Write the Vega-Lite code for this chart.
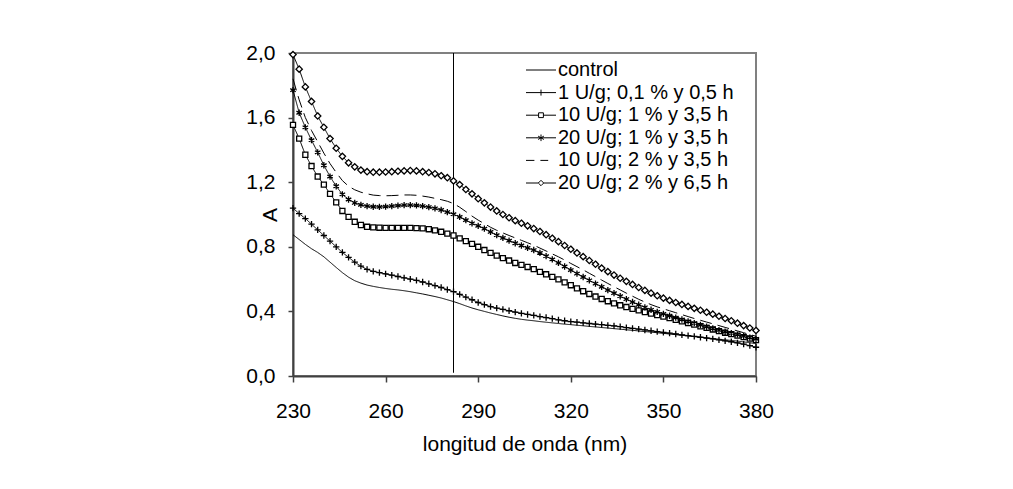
{
"$schema": "https://vega.github.io/schema/vega-lite/v6.json",
"width": 463, "height": 323,
"autosize": "none",
"padding": {"left": 293, "top": 53, "right": 257, "bottom": 113},
"background": "white",
"config": {
  "font": "Liberation Sans",
  "view": {"stroke": "#808080", "strokeWidth": 2},
  "axis": {"grid": false, "labelFont": "Liberation Sans", "titleFont": "Liberation Sans", "labelFontSize": 21, "titleFontSize": 21, "titleFontWeight": "normal", "labelColor": "black", "titleColor": "black", "domainColor": "#404040", "domainWidth": 2, "tickColor": "#404040", "tickWidth": 1.5, "labelFlush": false, "labelOverlap": false}
},
"datasets": {
"refline": [{"nm": 282, "A": 0.02, "A2": 2.0}],
"spectra": [
{"nm":230,"s":"c","A":0.875},{"nm":232,"s":"c","A":0.845},{"nm":234,"s":"c","A":0.815},{"nm":236,"s":"c","A":0.788},{"nm":238,"s":"c","A":0.765},{"nm":240,"s":"c","A":0.738},{"nm":242,"s":"c","A":0.705},{"nm":244,"s":"c","A":0.672},{"nm":246,"s":"c","A":0.640},{"nm":248,"s":"c","A":0.612},
{"nm":250,"s":"c","A":0.590},{"nm":252,"s":"c","A":0.575},{"nm":254,"s":"c","A":0.563},{"nm":256,"s":"c","A":0.555},{"nm":258,"s":"c","A":0.548},{"nm":260,"s":"c","A":0.542},{"nm":262,"s":"c","A":0.537},{"nm":264,"s":"c","A":0.533},{"nm":266,"s":"c","A":0.528},{"nm":268,"s":"c","A":0.522},
{"nm":270,"s":"c","A":0.515},{"nm":272,"s":"c","A":0.508},{"nm":274,"s":"c","A":0.500},{"nm":276,"s":"c","A":0.492},{"nm":278,"s":"c","A":0.483},{"nm":280,"s":"c","A":0.472},{"nm":282,"s":"c","A":0.461},{"nm":284,"s":"c","A":0.448},{"nm":286,"s":"c","A":0.434},{"nm":288,"s":"c","A":0.421},
{"nm":290,"s":"c","A":0.410},{"nm":292,"s":"c","A":0.400},{"nm":294,"s":"c","A":0.390},{"nm":296,"s":"c","A":0.381},{"nm":298,"s":"c","A":0.372},{"nm":300,"s":"c","A":0.364},{"nm":302,"s":"c","A":0.357},{"nm":304,"s":"c","A":0.351},{"nm":306,"s":"c","A":0.346},{"nm":308,"s":"c","A":0.342},
{"nm":310,"s":"c","A":0.337},{"nm":312,"s":"c","A":0.333},{"nm":314,"s":"c","A":0.329},{"nm":316,"s":"c","A":0.325},{"nm":318,"s":"c","A":0.321},{"nm":320,"s":"c","A":0.318},{"nm":322,"s":"c","A":0.314},{"nm":324,"s":"c","A":0.311},{"nm":326,"s":"c","A":0.307},{"nm":328,"s":"c","A":0.304},
{"nm":330,"s":"c","A":0.300},{"nm":332,"s":"c","A":0.297},{"nm":334,"s":"c","A":0.293},{"nm":336,"s":"c","A":0.290},{"nm":338,"s":"c","A":0.286},{"nm":340,"s":"c","A":0.283},{"nm":342,"s":"c","A":0.279},{"nm":344,"s":"c","A":0.275},{"nm":346,"s":"c","A":0.272},{"nm":348,"s":"c","A":0.268},
{"nm":350,"s":"c","A":0.264},{"nm":352,"s":"c","A":0.260},{"nm":354,"s":"c","A":0.256},{"nm":356,"s":"c","A":0.252},{"nm":358,"s":"c","A":0.248},{"nm":360,"s":"c","A":0.244},{"nm":362,"s":"c","A":0.240},{"nm":364,"s":"c","A":0.236},{"nm":366,"s":"c","A":0.232},{"nm":368,"s":"c","A":0.228},
{"nm":370,"s":"c","A":0.224},{"nm":372,"s":"c","A":0.220},{"nm":374,"s":"c","A":0.216},{"nm":376,"s":"c","A":0.211},{"nm":378,"s":"c","A":0.206},{"nm":380,"s":"c","A":0.201},

{"nm":230,"s":"p","A":1.040},{"nm":232,"s":"p","A":1.005},{"nm":234,"s":"p","A":0.975},{"nm":236,"s":"p","A":0.940},{"nm":238,"s":"p","A":0.905},{"nm":240,"s":"p","A":0.870},{"nm":242,"s":"p","A":0.835},{"nm":244,"s":"p","A":0.800},{"nm":246,"s":"p","A":0.765},{"nm":248,"s":"p","A":0.735},
{"nm":250,"s":"p","A":0.705},{"nm":252,"s":"p","A":0.680},{"nm":254,"s":"p","A":0.660},{"nm":256,"s":"p","A":0.648},{"nm":258,"s":"p","A":0.640},{"nm":260,"s":"p","A":0.632},{"nm":262,"s":"p","A":0.624},{"nm":264,"s":"p","A":0.616},{"nm":266,"s":"p","A":0.608},{"nm":268,"s":"p","A":0.600},
{"nm":270,"s":"p","A":0.592},{"nm":272,"s":"p","A":0.582},{"nm":274,"s":"p","A":0.571},{"nm":276,"s":"p","A":0.560},{"nm":278,"s":"p","A":0.548},{"nm":280,"s":"p","A":0.535},{"nm":282,"s":"p","A":0.522},{"nm":284,"s":"p","A":0.505},{"nm":286,"s":"p","A":0.488},{"nm":288,"s":"p","A":0.472},
{"nm":290,"s":"p","A":0.455},{"nm":292,"s":"p","A":0.442},{"nm":294,"s":"p","A":0.430},{"nm":296,"s":"p","A":0.420},{"nm":298,"s":"p","A":0.412},{"nm":300,"s":"p","A":0.404},{"nm":302,"s":"p","A":0.396},{"nm":304,"s":"p","A":0.388},{"nm":306,"s":"p","A":0.381},{"nm":308,"s":"p","A":0.375},
{"nm":310,"s":"p","A":0.368},{"nm":312,"s":"p","A":0.362},{"nm":314,"s":"p","A":0.355},{"nm":316,"s":"p","A":0.348},{"nm":318,"s":"p","A":0.342},{"nm":320,"s":"p","A":0.337},{"nm":322,"s":"p","A":0.333},{"nm":324,"s":"p","A":0.329},{"nm":326,"s":"p","A":0.325},{"nm":328,"s":"p","A":0.321},
{"nm":330,"s":"p","A":0.318},{"nm":332,"s":"p","A":0.314},{"nm":334,"s":"p","A":0.310},{"nm":336,"s":"p","A":0.306},{"nm":338,"s":"p","A":0.300},{"nm":340,"s":"p","A":0.295},{"nm":342,"s":"p","A":0.290},{"nm":344,"s":"p","A":0.285},{"nm":346,"s":"p","A":0.280},{"nm":348,"s":"p","A":0.275},
{"nm":350,"s":"p","A":0.270},{"nm":352,"s":"p","A":0.265},{"nm":354,"s":"p","A":0.260},{"nm":356,"s":"p","A":0.255},{"nm":358,"s":"p","A":0.250},{"nm":360,"s":"p","A":0.245},{"nm":362,"s":"p","A":0.240},{"nm":364,"s":"p","A":0.235},{"nm":366,"s":"p","A":0.230},{"nm":368,"s":"p","A":0.224},
{"nm":370,"s":"p","A":0.218},{"nm":372,"s":"p","A":0.212},{"nm":374,"s":"p","A":0.205},{"nm":376,"s":"p","A":0.197},{"nm":378,"s":"p","A":0.188},{"nm":380,"s":"p","A":0.178},

{"nm":230,"s":"q","A":1.555},{"nm":232,"s":"q","A":1.470},{"nm":234,"s":"q","A":1.370},{"nm":236,"s":"q","A":1.300},{"nm":238,"s":"q","A":1.235},{"nm":240,"s":"q","A":1.185},{"nm":242,"s":"q","A":1.128},{"nm":244,"s":"q","A":1.075},{"nm":246,"s":"q","A":1.022},{"nm":248,"s":"q","A":0.985},
{"nm":250,"s":"q","A":0.955},{"nm":252,"s":"q","A":0.935},{"nm":254,"s":"q","A":0.924},{"nm":256,"s":"q","A":0.920},{"nm":258,"s":"q","A":0.918},{"nm":260,"s":"q","A":0.917},{"nm":262,"s":"q","A":0.917},{"nm":264,"s":"q","A":0.917},{"nm":266,"s":"q","A":0.917},{"nm":268,"s":"q","A":0.917},
{"nm":270,"s":"q","A":0.916},{"nm":272,"s":"q","A":0.914},{"nm":274,"s":"q","A":0.909},{"nm":276,"s":"q","A":0.902},{"nm":278,"s":"q","A":0.893},{"nm":280,"s":"q","A":0.882},{"nm":282,"s":"q","A":0.870},{"nm":284,"s":"q","A":0.852},{"nm":286,"s":"q","A":0.835},{"nm":288,"s":"q","A":0.818},
{"nm":290,"s":"q","A":0.800},{"nm":292,"s":"q","A":0.780},{"nm":294,"s":"q","A":0.762},{"nm":296,"s":"q","A":0.745},{"nm":298,"s":"q","A":0.730},{"nm":300,"s":"q","A":0.715},{"nm":302,"s":"q","A":0.700},{"nm":304,"s":"q","A":0.688},{"nm":306,"s":"q","A":0.675},{"nm":308,"s":"q","A":0.662},
{"nm":310,"s":"q","A":0.645},{"nm":312,"s":"q","A":0.630},{"nm":314,"s":"q","A":0.614},{"nm":316,"s":"q","A":0.598},{"nm":318,"s":"q","A":0.580},{"nm":320,"s":"q","A":0.562},{"nm":322,"s":"q","A":0.543},{"nm":324,"s":"q","A":0.525},{"nm":326,"s":"q","A":0.508},{"nm":328,"s":"q","A":0.492},
{"nm":330,"s":"q","A":0.477},{"nm":332,"s":"q","A":0.463},{"nm":334,"s":"q","A":0.450},{"nm":336,"s":"q","A":0.438},{"nm":338,"s":"q","A":0.427},{"nm":340,"s":"q","A":0.416},{"nm":342,"s":"q","A":0.406},{"nm":344,"s":"q","A":0.396},{"nm":346,"s":"q","A":0.386},{"nm":348,"s":"q","A":0.377},
{"nm":350,"s":"q","A":0.368},{"nm":352,"s":"q","A":0.358},{"nm":354,"s":"q","A":0.348},{"nm":356,"s":"q","A":0.338},{"nm":358,"s":"q","A":0.328},{"nm":360,"s":"q","A":0.318},{"nm":362,"s":"q","A":0.308},{"nm":364,"s":"q","A":0.298},{"nm":366,"s":"q","A":0.288},{"nm":368,"s":"q","A":0.278},
{"nm":370,"s":"q","A":0.268},{"nm":372,"s":"q","A":0.259},{"nm":374,"s":"q","A":0.250},{"nm":376,"s":"q","A":0.241},{"nm":378,"s":"q","A":0.232},{"nm":380,"s":"q","A":0.222},

{"nm":230,"s":"x","A":1.770},{"nm":232,"s":"x","A":1.630},{"nm":234,"s":"x","A":1.540},{"nm":236,"s":"x","A":1.460},{"nm":238,"s":"x","A":1.385},{"nm":240,"s":"x","A":1.305},{"nm":242,"s":"x","A":1.235},{"nm":244,"s":"x","A":1.175},{"nm":246,"s":"x","A":1.125},{"nm":248,"s":"x","A":1.093},
{"nm":250,"s":"x","A":1.072},{"nm":252,"s":"x","A":1.060},{"nm":254,"s":"x","A":1.052},{"nm":256,"s":"x","A":1.048},{"nm":258,"s":"x","A":1.047},{"nm":260,"s":"x","A":1.049},{"nm":262,"s":"x","A":1.052},{"nm":264,"s":"x","A":1.055},{"nm":266,"s":"x","A":1.058},{"nm":268,"s":"x","A":1.058},
{"nm":270,"s":"x","A":1.056},{"nm":272,"s":"x","A":1.052},{"nm":274,"s":"x","A":1.046},{"nm":276,"s":"x","A":1.038},{"nm":278,"s":"x","A":1.028},{"nm":280,"s":"x","A":1.015},{"nm":282,"s":"x","A":1.002},{"nm":284,"s":"x","A":0.985},{"nm":286,"s":"x","A":0.965},{"nm":288,"s":"x","A":0.945},
{"nm":290,"s":"x","A":0.930},{"nm":292,"s":"x","A":0.912},{"nm":294,"s":"x","A":0.892},{"nm":296,"s":"x","A":0.872},{"nm":298,"s":"x","A":0.855},{"nm":300,"s":"x","A":0.838},{"nm":302,"s":"x","A":0.822},{"nm":304,"s":"x","A":0.808},{"nm":306,"s":"x","A":0.793},{"nm":308,"s":"x","A":0.780},
{"nm":310,"s":"x","A":0.762},{"nm":312,"s":"x","A":0.742},{"nm":314,"s":"x","A":0.722},{"nm":316,"s":"x","A":0.700},{"nm":318,"s":"x","A":0.678},{"nm":320,"s":"x","A":0.656},{"nm":322,"s":"x","A":0.634},{"nm":324,"s":"x","A":0.613},{"nm":326,"s":"x","A":0.592},{"nm":328,"s":"x","A":0.572},
{"nm":330,"s":"x","A":0.552},{"nm":332,"s":"x","A":0.532},{"nm":334,"s":"x","A":0.513},{"nm":336,"s":"x","A":0.494},{"nm":338,"s":"x","A":0.476},{"nm":340,"s":"x","A":0.458},{"nm":342,"s":"x","A":0.441},{"nm":344,"s":"x","A":0.425},{"nm":346,"s":"x","A":0.410},{"nm":348,"s":"x","A":0.397},
{"nm":350,"s":"x","A":0.385},{"nm":352,"s":"x","A":0.373},{"nm":354,"s":"x","A":0.361},{"nm":356,"s":"x","A":0.350},{"nm":358,"s":"x","A":0.338},{"nm":360,"s":"x","A":0.327},{"nm":362,"s":"x","A":0.316},{"nm":364,"s":"x","A":0.305},{"nm":366,"s":"x","A":0.294},{"nm":368,"s":"x","A":0.284},
{"nm":370,"s":"x","A":0.274},{"nm":372,"s":"x","A":0.265},{"nm":374,"s":"x","A":0.256},{"nm":376,"s":"x","A":0.247},{"nm":378,"s":"x","A":0.238},{"nm":380,"s":"x","A":0.230},

{"nm":230,"s":"h","A":1.840},{"nm":232,"s":"h","A":1.710},{"nm":234,"s":"h","A":1.600},{"nm":236,"s":"h","A":1.520},{"nm":238,"s":"h","A":1.450},{"nm":240,"s":"h","A":1.380},{"nm":242,"s":"h","A":1.315},{"nm":244,"s":"h","A":1.260},{"nm":246,"s":"h","A":1.210},{"nm":248,"s":"h","A":1.175},
{"nm":250,"s":"h","A":1.153},{"nm":252,"s":"h","A":1.138},{"nm":254,"s":"h","A":1.128},{"nm":256,"s":"h","A":1.120},{"nm":258,"s":"h","A":1.117},{"nm":260,"s":"h","A":1.116},{"nm":262,"s":"h","A":1.117},{"nm":264,"s":"h","A":1.119},{"nm":266,"s":"h","A":1.121},{"nm":268,"s":"h","A":1.121},
{"nm":270,"s":"h","A":1.119},{"nm":272,"s":"h","A":1.114},{"nm":274,"s":"h","A":1.108},{"nm":276,"s":"h","A":1.100},{"nm":278,"s":"h","A":1.092},{"nm":280,"s":"h","A":1.082},{"nm":282,"s":"h","A":1.068},{"nm":284,"s":"h","A":1.045},{"nm":286,"s":"h","A":1.018},{"nm":288,"s":"h","A":0.990},
{"nm":290,"s":"h","A":0.965},{"nm":292,"s":"h","A":0.943},{"nm":294,"s":"h","A":0.921},{"nm":296,"s":"h","A":0.902},{"nm":298,"s":"h","A":0.886},{"nm":300,"s":"h","A":0.870},{"nm":302,"s":"h","A":0.855},{"nm":304,"s":"h","A":0.840},{"nm":306,"s":"h","A":0.825},{"nm":308,"s":"h","A":0.810},
{"nm":310,"s":"h","A":0.792},{"nm":312,"s":"h","A":0.774},{"nm":314,"s":"h","A":0.756},{"nm":316,"s":"h","A":0.738},{"nm":318,"s":"h","A":0.718},{"nm":320,"s":"h","A":0.697},{"nm":322,"s":"h","A":0.677},{"nm":324,"s":"h","A":0.657},{"nm":326,"s":"h","A":0.636},{"nm":328,"s":"h","A":0.615},
{"nm":330,"s":"h","A":0.594},{"nm":332,"s":"h","A":0.573},{"nm":334,"s":"h","A":0.553},{"nm":336,"s":"h","A":0.533},{"nm":338,"s":"h","A":0.513},{"nm":340,"s":"h","A":0.494},{"nm":342,"s":"h","A":0.475},{"nm":344,"s":"h","A":0.458},{"nm":346,"s":"h","A":0.442},{"nm":348,"s":"h","A":0.428},
{"nm":350,"s":"h","A":0.416},{"nm":352,"s":"h","A":0.404},{"nm":354,"s":"h","A":0.392},{"nm":356,"s":"h","A":0.380},{"nm":358,"s":"h","A":0.368},{"nm":360,"s":"h","A":0.356},{"nm":362,"s":"h","A":0.345},{"nm":364,"s":"h","A":0.334},{"nm":366,"s":"h","A":0.323},{"nm":368,"s":"h","A":0.312},
{"nm":370,"s":"h","A":0.301},{"nm":372,"s":"h","A":0.290},{"nm":374,"s":"h","A":0.279},{"nm":376,"s":"h","A":0.268},{"nm":378,"s":"h","A":0.257},{"nm":380,"s":"h","A":0.246},

{"nm":230,"s":"d","A":1.990},{"nm":232,"s":"d","A":1.900},{"nm":234,"s":"d","A":1.790},{"nm":236,"s":"d","A":1.700},{"nm":238,"s":"d","A":1.610},{"nm":240,"s":"d","A":1.540},{"nm":242,"s":"d","A":1.470},{"nm":244,"s":"d","A":1.410},{"nm":246,"s":"d","A":1.360},{"nm":248,"s":"d","A":1.320},
{"nm":250,"s":"d","A":1.295},{"nm":252,"s":"d","A":1.275},{"nm":254,"s":"d","A":1.265},{"nm":256,"s":"d","A":1.262},{"nm":258,"s":"d","A":1.262},{"nm":260,"s":"d","A":1.263},{"nm":262,"s":"d","A":1.265},{"nm":264,"s":"d","A":1.268},{"nm":266,"s":"d","A":1.270},{"nm":268,"s":"d","A":1.272},
{"nm":270,"s":"d","A":1.270},{"nm":272,"s":"d","A":1.265},{"nm":274,"s":"d","A":1.260},{"nm":276,"s":"d","A":1.252},{"nm":278,"s":"d","A":1.240},{"nm":280,"s":"d","A":1.228},{"nm":282,"s":"d","A":1.208},{"nm":284,"s":"d","A":1.185},{"nm":286,"s":"d","A":1.155},{"nm":288,"s":"d","A":1.128},
{"nm":290,"s":"d","A":1.098},{"nm":292,"s":"d","A":1.072},{"nm":294,"s":"d","A":1.046},{"nm":296,"s":"d","A":1.022},{"nm":298,"s":"d","A":1.000},{"nm":300,"s":"d","A":0.980},{"nm":302,"s":"d","A":0.962},{"nm":304,"s":"d","A":0.946},{"nm":306,"s":"d","A":0.930},{"nm":308,"s":"d","A":0.913},
{"nm":310,"s":"d","A":0.895},{"nm":312,"s":"d","A":0.875},{"nm":314,"s":"d","A":0.853},{"nm":316,"s":"d","A":0.832},{"nm":318,"s":"d","A":0.808},{"nm":320,"s":"d","A":0.785},{"nm":322,"s":"d","A":0.762},{"nm":324,"s":"d","A":0.739},{"nm":326,"s":"d","A":0.715},{"nm":328,"s":"d","A":0.692},
{"nm":330,"s":"d","A":0.668},{"nm":332,"s":"d","A":0.646},{"nm":334,"s":"d","A":0.625},{"nm":336,"s":"d","A":0.605},{"nm":338,"s":"d","A":0.586},{"nm":340,"s":"d","A":0.567},{"nm":342,"s":"d","A":0.548},{"nm":344,"s":"d","A":0.530},{"nm":346,"s":"d","A":0.513},{"nm":348,"s":"d","A":0.497},
{"nm":350,"s":"d","A":0.482},{"nm":352,"s":"d","A":0.468},{"nm":354,"s":"d","A":0.455},{"nm":356,"s":"d","A":0.443},{"nm":358,"s":"d","A":0.431},{"nm":360,"s":"d","A":0.419},{"nm":362,"s":"d","A":0.407},{"nm":364,"s":"d","A":0.395},{"nm":366,"s":"d","A":0.383},{"nm":368,"s":"d","A":0.370},
{"nm":370,"s":"d","A":0.356},{"nm":372,"s":"d","A":0.342},{"nm":374,"s":"d","A":0.327},{"nm":376,"s":"d","A":0.312},{"nm":378,"s":"d","A":0.297},{"nm":380,"s":"d","A":0.282}
]
},
"encoding": {
  "x": {"field": "nm", "type": "quantitative",
    "scale": {"domain": [230, 380], "nice": false, "zero": false},
    "axis": {"title": "longitud de onda (nm)", "values": [230, 260, 290, 320, 350, 380], "tickSize": 6, "labelPadding": 18, "titleY": 74, "titleBaseline": "alphabetic"}},
  "y": {"field": "A", "type": "quantitative",
    "scale": {"domain": [0, 2], "nice": false, "zero": true},
    "axis": {"title": "A", "values": [0, 0.4, 0.8, 1.2, 1.6, 2.0], "labelExpr": "replace(format(datum.value, '.1f'), '.', ',')", "tickSize": 5, "labelPadding": 13, "titleX": -23, "titleY": 161.5, "titleAngle": 270, "titleAlign": "center", "titleBaseline": "middle"}}
},
"layer": [
  {"data": {"name": "refline"},
   "mark": {"type": "rule", "color": "black", "strokeWidth": 1},
   "encoding": {"y2": {"field": "A2"}}},
  {"data": {"name": "spectra"},
   "mark": {"type": "line", "color": "black", "strokeWidth": 1},
   "encoding": {
     "strokeDash": {"field": "s", "type": "nominal",
       "scale": {"domain": ["c", "p", "q", "x", "h", "d"], "range": [[1, 0], [1, 0], [1, 0], [1, 0], [12, 6], [1, 0]]},
       "legend": null}}},
  {"data": {"name": "spectra"},
   "transform": [{"filter": {"field": "s", "oneOf": ["p", "q", "x", "d"]}}],
   "mark": {"type": "point", "filled": true, "fill": "white", "stroke": "black", "strokeWidth": 1.3, "size": 40, "opacity": 1},
   "encoding": {
     "shape": {"field": "s", "type": "nominal",
       "scale": {"domain": ["p", "q", "x", "d"], "range": ["M-1,0H1M0,-1V1", "M-0.8,-0.8H0.8V0.8H-0.8Z", "M0,-1V1M-0.87,-0.5L0.87,0.5M-0.87,0.5L0.87,-0.5", "M0,-1L1,0L0,1L-1,0Z"]},
       "legend": null}}},
  {"data": {"name": "spectra"},
   "transform": [{"filter": "false"}],
   "mark": {"type": "point", "filled": false, "stroke": "black", "strokeWidth": 1, "opacity": 1},
   "encoding": {
     "shape": {"field": "s", "type": "nominal",
       "scale": {"domain": ["c", "p", "q", "x", "h", "d"],
         "range": ["M-2.5,0H2.5", "M-2.5,0H2.5M0,-0.5V0.5", "M-2.5,0H-0.4M0.4,0H2.5M-0.4,-0.4H0.4V0.4H-0.4Z", "M-2.5,0H2.5M0,-0.55V0.55M-0.48,-0.28L0.48,0.28M-0.48,0.28L0.48,-0.28", "M-2.5,0H-1.1M-0.1,0H1.2", "M-2.5,0H-0.45M0.45,0H2.5M0,-0.45L0.45,0L0,0.45L-0.45,0Z"]},
       "legend": {"orient": "none", "legendX": 238, "legendY": 7, "title": null, "symbolSize": 144, "symbolStrokeWidth": 1, "symbolStrokeColor": "black", "symbolFillColor": "transparent", "labelFont": "Liberation Sans", "labelFontSize": 20, "labelColor": "black", "labelOffset": 7, "labelLimit": 400, "rowPadding": 2.6, "padding": 0,
         "labelExpr": "datum.label == 'c' ? 'control' : datum.label == 'p' ? '\u2002 1 U/g; 0,1 % y 0,5 h' : datum.label == 'q' ? '10 U/g; 1 % y 3,5 h' : datum.label == 'x' ? '20 U/g; 1 % y 3,5 h' : datum.label == 'h' ? '10 U/g; 2 % y 3,5 h' : '20 U/g; 2 % y 6,5 h'"}}}}
],
"resolve": {"scale": {"shape": "independent"}}
}
